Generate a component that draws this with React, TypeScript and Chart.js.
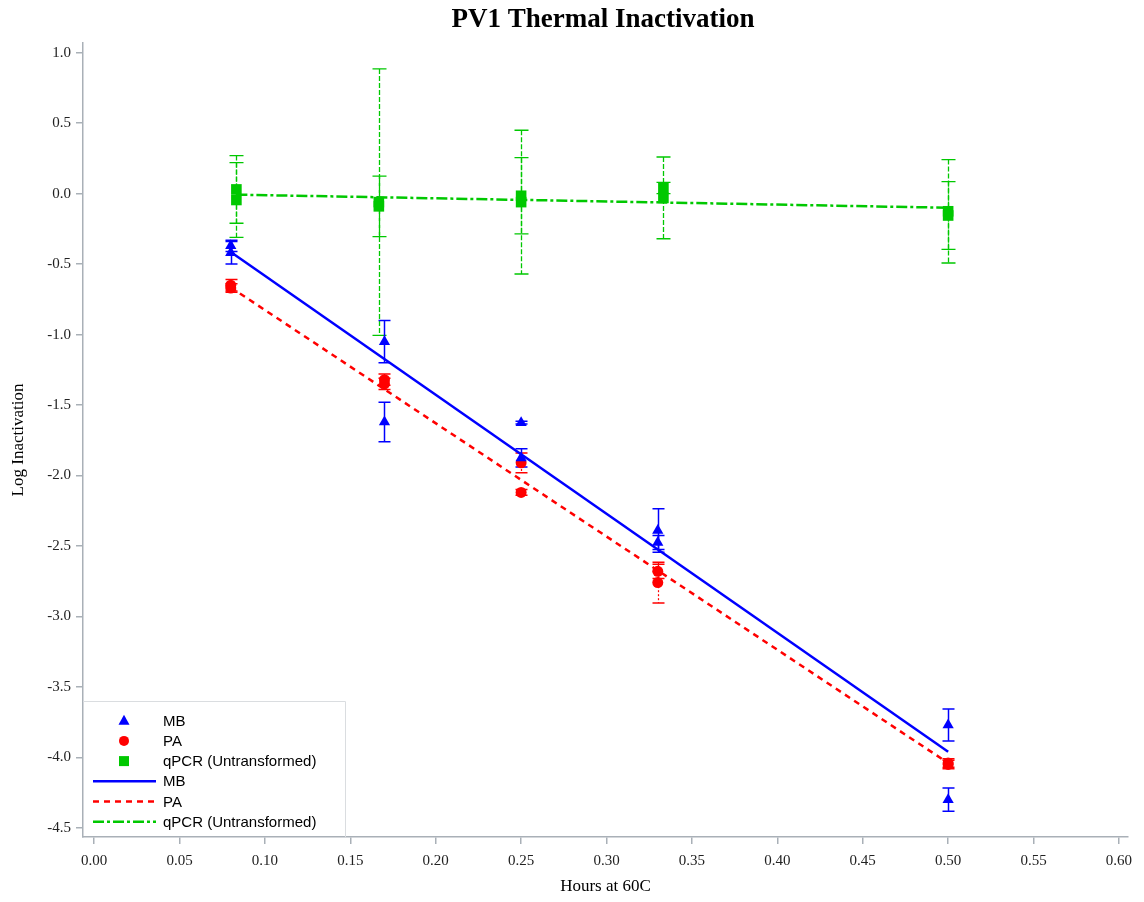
import React, { useEffect, useRef } from "react";
import { Chart, registerables } from "chart.js";

Chart.register(...registerables);

// ---- text ----
const titleText = "PV1 Thermal Inactivation";
const xAxisTitle = "Hours at 60C";
const yAxisTitle = "Log Inactivation";

// ---- tick values ----
const xTickValues = [0, 0.05, 0.1, 0.15, 0.2, 0.25, 0.3, 0.35, 0.4, 0.45, 0.5, 0.55, 0.6];
const yTickValues = [-4.5, -4, -3.5, -3, -2.5, -2, -1.5, -1, -0.5, 0, 0.5, 1];

// ---- MB replicates ----
const mbHours = [0.08, 0.08, 0.17, 0.17, 0.25, 0.25, 0.33, 0.33, 0.5, 0.5];
const mbLog = [-0.37, -0.42, -1.05, -1.62, -1.625, -1.875, -2.39, -2.475, -3.77, -4.3];
const mbErr = [0.04, 0.08, 0.15, 0.14, 0.01, 0.065, 0.155, 0.05, 0.113, 0.083];

// ---- PA replicates ----
const paHours = [0.08, 0.08, 0.17, 0.17, 0.25, 0.25, 0.33, 0.33, 0.5, 0.5];
const paLog = [-0.65, -0.67, -1.32, -1.35, -1.91, -2.12, -2.68, -2.76, -4.04, -4.05];
const paErr = [0.04, 0.03, 0.04, 0.04, 0.07, 0.02, 0.05, 0.145, 0.03, 0.03];

// ---- qPCR (untransformed) replicates ----
const qpcrHours = [0.0833, 0.0833, 0.1667, 0.1667, 0.25, 0.25, 0.3333, 0.3333, 0.5, 0.5];
const qpcrLog = [0.03, -0.045, -0.06, -0.09, -0.015, -0.06, 0.04, -0.03, -0.125, -0.155];
const qpcrErr = [0.24, 0.265, 0.945, 0.215, 0.27, 0.51, 0.04, 0.29, 0.367, 0.24];

// ---- fitted regression lines ----
const mbFitHours = [0.08, 0.5];
const mbFitLog = [-0.414, -3.96];
const paFitHours = [0.08, 0.5];
const paFitLog = [-0.665, -4.04];
const qpcrFitHours = [0.0833, 0.5];
const qpcrFitLog = [-0.007, -0.1];

// ---- colours ----
const BLUE = "#0000ff";
const RED = "#ff0000";
const GREEN = "#00c800";
const AXIS_GREY = "#a9b0b7";

const toPoints = (xs: number[], ys: number[]) => xs.map((x, i) => ({ x, y: ys[i] }));

type ErrorSeries = {
  hours: number[];
  values: number[];
  errors: number[];
  color: string;
  stemWidth: number;
  stemDash: number[];
  capWidth: number;
  capHalf: number;
};

const errorSeries: ErrorSeries[] = [
  { hours: qpcrHours, values: qpcrLog, errors: qpcrErr, color: GREEN, stemWidth: 1.3, stemDash: [5, 2], capWidth: 1.3, capHalf: 7 },
  { hours: paHours, values: paLog, errors: paErr, color: RED, stemWidth: 1.2, stemDash: [2, 2], capWidth: 1.5, capHalf: 6 },
  { hours: mbHours, values: mbLog, errors: mbErr, color: BLUE, stemWidth: 1.5, stemDash: [], capWidth: 1.5, capHalf: 6 },
];

const errorBarPlugin = {
  id: "errorBars",
  beforeDatasetsDraw(chart: any) {
    const { ctx, chartArea, scales } = chart;
    const xs = scales.x;
    const ys = scales.y;
    ctx.save();
    ctx.beginPath();
    ctx.rect(chartArea.left, chartArea.top, chartArea.right - chartArea.left, chartArea.bottom - chartArea.top);
    ctx.clip();
    errorSeries.forEach((s) => {
      s.hours.forEach((h, i) => {
        const px = Math.round(xs.getPixelForValue(h)) + 0.5;
        const top = ys.getPixelForValue(s.values[i] + s.errors[i]);
        const bot = ys.getPixelForValue(s.values[i] - s.errors[i]);
        ctx.strokeStyle = s.color;
        ctx.lineWidth = s.stemWidth;
        ctx.setLineDash(s.stemDash);
        ctx.beginPath();
        ctx.moveTo(px, top);
        ctx.lineTo(px, bot);
        ctx.stroke();
        ctx.setLineDash([]);
        ctx.lineWidth = s.capWidth;
        ctx.beginPath();
        ctx.moveTo(px - s.capHalf, top);
        ctx.lineTo(px + s.capHalf, top);
        ctx.moveTo(px - s.capHalf, bot);
        ctx.lineTo(px + s.capHalf, bot);
        ctx.stroke();
      });
    });
    ctx.restore();
  },
};

const titlePlugin = {
  id: "plotTitle",
  afterDraw(chart: any) {
    const { ctx } = chart;
    ctx.save();
    ctx.fillStyle = "#000";
    ctx.font = "bold 27px 'Liberation Serif'";
    ctx.textAlign = "center";
    ctx.textBaseline = "middle";
    ctx.fillText(titleText, 603, 20);
    ctx.restore();
  },
};

// Legend drawn inside the lower-left corner of the plot
const legendPlugin = {
  id: "insetLegend",
  afterDatasetsDraw(chart: any) {
    const { ctx, chartArea } = chart;
    const datasets = chart.data.datasets;
    const left = chartArea.left;
    const boxTop = 701;
    const boxRight = 345;
    const rowH = 20.2;
    const firstRow = 720.7;
    const markerX = 124;
    const lineX0 = 93;
    const lineX1 = 156;
    const textX = 163;

    ctx.save();
    ctx.fillStyle = "#ffffff";
    ctx.fillRect(left + 1, boxTop, boxRight - left - 1, chartArea.bottom - boxTop - 1);
    ctx.strokeStyle = "#dadde0";
    ctx.lineWidth = 1;
    ctx.beginPath();
    ctx.moveTo(left, boxTop + 0.5);
    ctx.lineTo(boxRight + 0.5, boxTop + 0.5);
    ctx.lineTo(boxRight + 0.5, chartArea.bottom);
    ctx.stroke();

    ctx.font = "15px 'Liberation Sans'";
    ctx.textBaseline = "middle";
    ctx.textAlign = "left";

    datasets.forEach((ds: any, i: number) => {
      const y = firstRow + i * rowH;
      const color = ds.borderColor;
      if (ds.showLine) {
        ctx.strokeStyle = color;
        ctx.lineWidth = 2.5;
        ctx.setLineDash(ds.borderDash || []);
        ctx.beginPath();
        ctx.moveTo(lineX0, y);
        ctx.lineTo(lineX1, y);
        ctx.stroke();
        ctx.setLineDash([]);
      } else {
        ctx.fillStyle = color;
        ctx.beginPath();
        if (ds.pointStyle === "triangle") {
          ctx.moveTo(markerX, y - 6);
          ctx.lineTo(markerX + 5.5, y + 4);
          ctx.lineTo(markerX - 5.5, y + 4);
          ctx.closePath();
          ctx.fill();
        } else if (ds.pointStyle === "circle") {
          ctx.arc(markerX, y, 5, 0, Math.PI * 2);
          ctx.fill();
        } else {
          ctx.fillRect(markerX - 5, y - 5, 10, 10);
        }
      }
      ctx.fillStyle = "#000";
      ctx.fillText(ds.label, textX, y + 1);
    });
    ctx.restore();
  },
};

export default function App() {
  const canvasRef = useRef<HTMLCanvasElement | null>(null);

  useEffect(() => {
    if (!canvasRef.current) return;
    Chart.defaults.font.family = "'Liberation Serif'";

    const chart = new Chart(canvasRef.current, {
      type: "scatter",
      data: {
        datasets: [
          {
            label: "MB",
            data: toPoints(mbHours, mbLog),
            showLine: false,
            pointStyle: "triangle",
            pointRadius: 6.5,
            backgroundColor: BLUE,
            borderColor: BLUE,
            borderWidth: 0,
          },
          {
            label: "PA",
            data: toPoints(paHours, paLog),
            showLine: false,
            pointStyle: "circle",
            pointRadius: 5.5,
            backgroundColor: RED,
            borderColor: RED,
            borderWidth: 0,
          },
          {
            label: "qPCR (Untransformed)",
            data: toPoints(qpcrHours, qpcrLog),
            showLine: false,
            pointStyle: "rect",
            pointRadius: 7.5,
            backgroundColor: GREEN,
            borderColor: GREEN,
            borderWidth: 0,
          },
          {
            label: "MB",
            data: toPoints(mbFitHours, mbFitLog),
            showLine: true,
            pointRadius: 0,
            borderColor: BLUE,
            borderWidth: 2.5,
            borderDash: [],
          },
          {
            label: "PA",
            data: toPoints(paFitHours, paFitLog),
            showLine: true,
            pointRadius: 0,
            borderColor: RED,
            borderWidth: 2.5,
            borderDash: [6, 5],
          },
          {
            label: "qPCR (Untransformed)",
            data: toPoints(qpcrFitHours, qpcrFitLog),
            showLine: true,
            pointRadius: 0,
            borderColor: GREEN,
            borderWidth: 2.5,
            borderDash: [11, 3, 3, 3],
          },
        ] as any,
      },
      options: {
        responsive: false,
        animation: false,
        layout: { padding: { top: 43, right: 16, left: 0, bottom: 0 } },
        plugins: {
          legend: { display: false },
          tooltip: { enabled: false },
          title: { display: false },
        },
        scales: {
          x: {
            type: "linear",
            min: -0.0065,
            max: 0.6053,
            afterFit: (s: any) => {
              s.height = 65;
            },
            afterBuildTicks: (s: any) => {
              s.ticks = xTickValues.map((v) => ({ value: v }));
            },
            border: { display: true, color: AXIS_GREY, width: 1.5 },
            grid: { display: true, drawOnChartArea: false, drawTicks: true, tickLength: 7, color: AXIS_GREY, lineWidth: 1.5 },
            ticks: {
              padding: 8,
              color: "#222",
              font: { size: 15, family: "'Liberation Serif'" },
              maxRotation: 0,
              autoSkip: false,
              callback: (v: any) => Number(v).toFixed(2),
            },
            title: {
              display: true,
              text: xAxisTitle,
              color: "#000",
              font: { size: 17, family: "'Liberation Serif'" },
              padding: { top: 0, bottom: 5 },
            },
          },
          y: {
            type: "linear",
            min: -4.565,
            max: 1.069,
            afterFit: (s: any) => {
              s.width = 83;
            },
            afterBuildTicks: (s: any) => {
              s.ticks = yTickValues.map((v) => ({ value: v }));
            },
            border: { display: true, color: AXIS_GREY, width: 1.5 },
            grid: { display: true, drawOnChartArea: false, drawTicks: true, tickLength: 7, color: AXIS_GREY, lineWidth: 1.5 },
            ticks: {
              padding: 5,
              color: "#222",
              font: { size: 15, family: "'Liberation Serif'" },
              autoSkip: false,
              callback: (v: any) => Number(v).toFixed(1),
            },
            title: {
              display: true,
              text: yAxisTitle,
              color: "#000",
              font: { size: 17, family: "'Liberation Serif'" },
              padding: { top: 8, bottom: 0 },
            },
          },
        },
      } as any,
      plugins: [errorBarPlugin, legendPlugin, titlePlugin],
    });

    return () => chart.destroy();
  }, []);

  return (
    <div style={{ position: "fixed", left: 0, top: 0, width: 1144, height: 902, background: "#fff" }}>
      <canvas ref={canvasRef} width={1144} height={902} />
    </div>
  );
}
